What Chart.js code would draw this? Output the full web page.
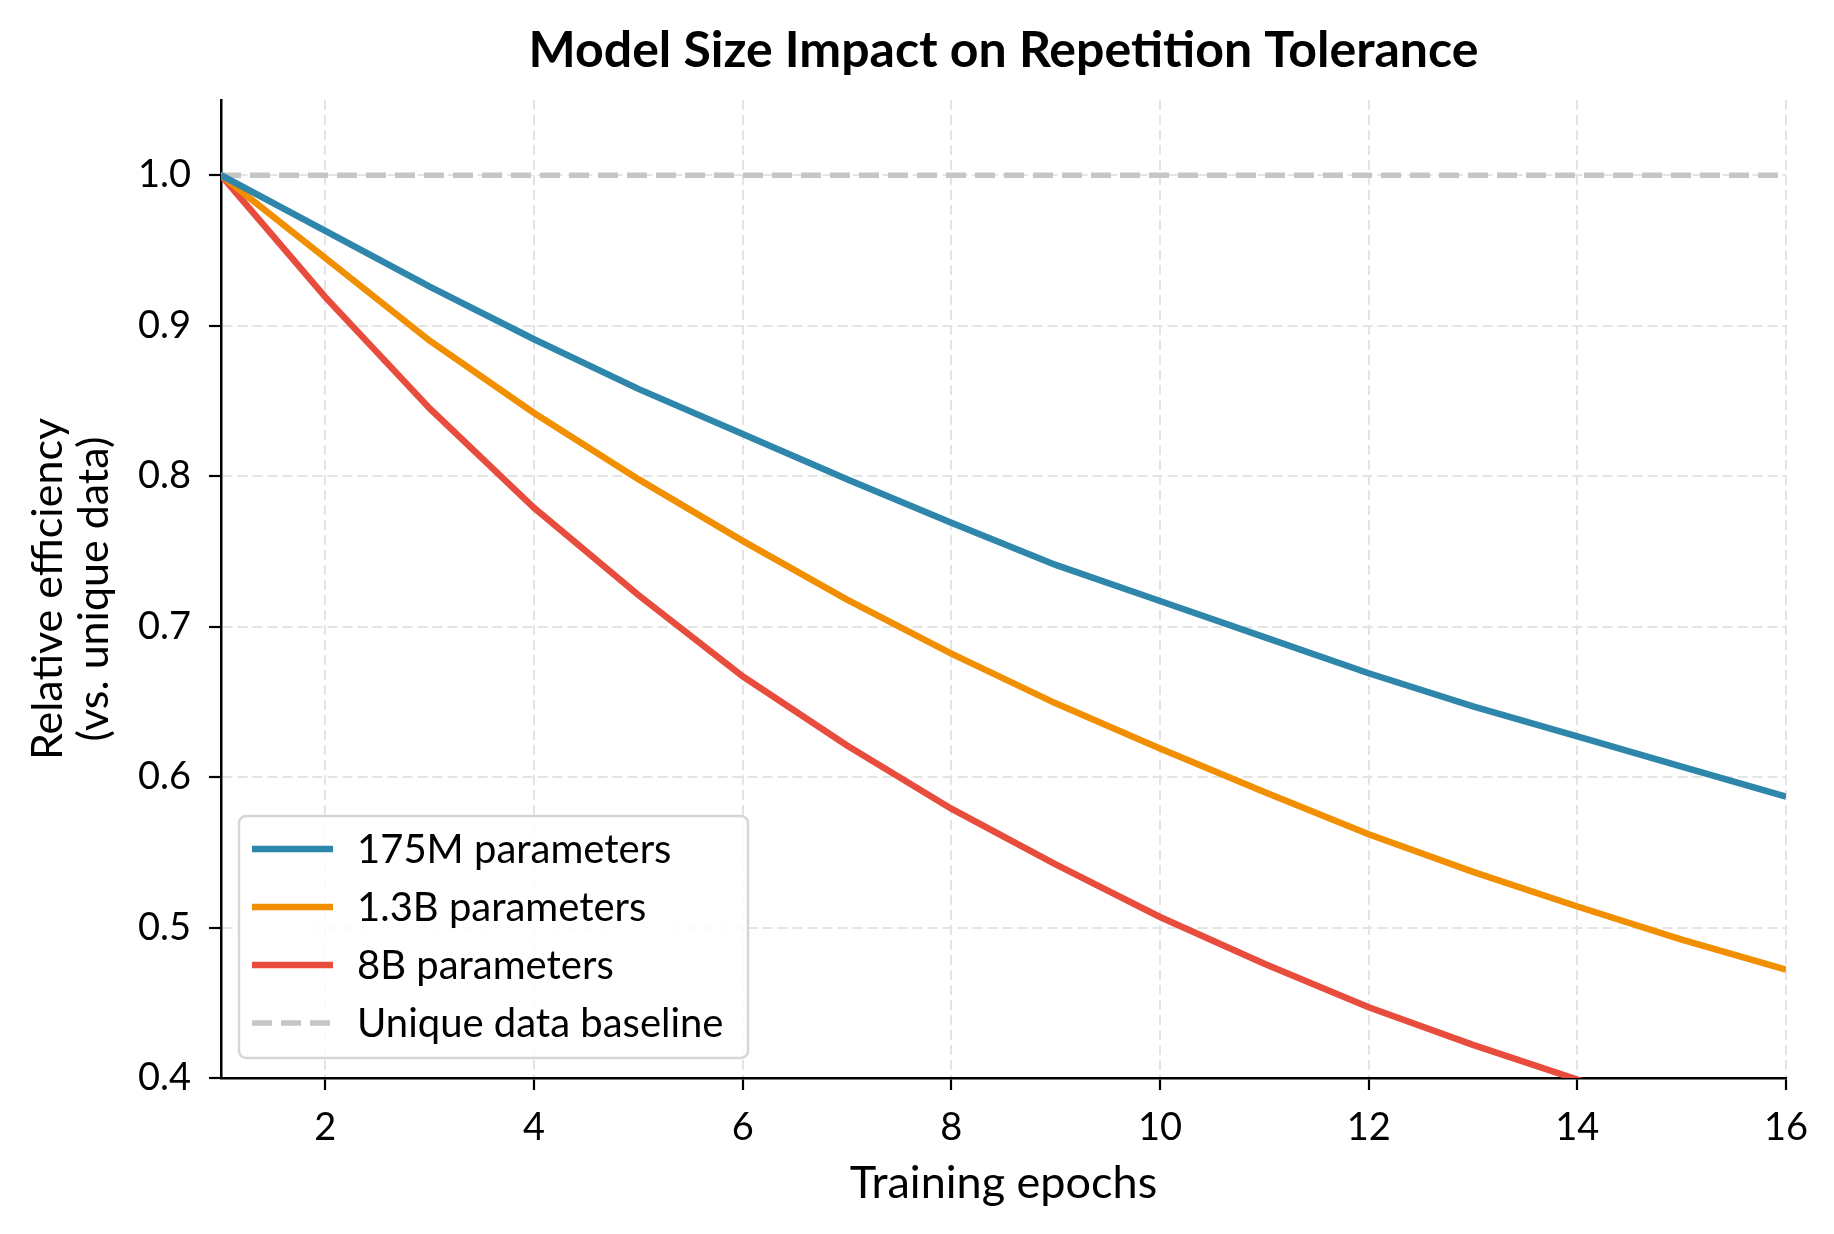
<!DOCTYPE html>
<html>
<head>
<meta charset="utf-8">
<script src="https://cdn.jsdelivr.net/npm/chart.js@4.4.1/dist/chart.umd.min.js"></script>
<style>
  html,body{margin:0;padding:0;background:#fff;}
  #wrap{width:1834px;height:1234px;}
</style>
</head>
<body>
<div id="wrap"><canvas id="chart" width="1834" height="1234"></canvas></div>
<script>
// datos
const epochs=[1,2,3,4,5,6,7,8,9,10,11,12,13,14,15,16]
const small175M=[1.0,0.963,0.926,0.891,0.858,0.828,0.798,0.769,0.741,0.717,0.693,0.669,0.647,0.627,0.607,0.587]
const mid13B=[1.0,0.945,0.890,0.842,0.798,0.757,0.718,0.682,0.649,0.619,0.590,0.562,0.537,0.514,0.492,0.472]
const big8B=[1.0,0.919,0.845,0.779,0.721,0.667,0.621,0.579,0.542,0.507,0.476,0.447,0.422,0.399,0.378,0.358]
const baseline=[1.0,1.0,1.0,1.0,1.0,1.0,1.0,1.0,1.0,1.0,1.0,1.0,1.0,1.0,1.0,1.0]
const seriesNames=['175M parameters','1.3B parameters','8B parameters','Unique data baseline']
const xTicks=[2,4,6,8,10,12,14,16]
const yTicks=[0.4,0.5,0.6,0.7,0.8,0.9,1.0]
const chartTitle='Model Size Impact on Repetition Tolerance'

const FONT="Lato, 'Noto Sans', sans-serif"
Chart.defaults.font.family=FONT
Chart.defaults.color='#000'

const toPoints=arr=>arr.map((v,i)=>({x:epochs[i],y:v}))

// titulo centrado sobre el area del grafico (no sobre todo el canvas)
const areaTitle={
  id:'areaTitle',
  afterDraw(chart){
    const ctx=chart.ctx, area=chart.chartArea
    ctx.save()
    ctx.font="bold 50px "+FONT
    ctx.fillStyle='#000'
    ctx.textAlign='center'
    ctx.textBaseline='middle'
    ctx.fillText(chartTitle,(area.left+area.right)/2,51)
    ctx.restore()
  }
}

// leyenda dibujada dentro del area del grafico
const boxLegend={
  id:'boxLegend',
  afterDraw(chart){
    const ctx=chart.ctx
    const area=chart.chartArea
    const x0=area.left+18, y0=area.bottom-262, w=509, h=242
    ctx.save()
    ctx.beginPath()
    ctx.roundRect(x0,y0,w,h,7)
    ctx.fillStyle='rgba(255,255,255,0.85)'
    ctx.fill()
    ctx.lineWidth=2.5
    ctx.strokeStyle='#d6d6d6'
    ctx.stroke()
    ctx.font="40px "+FONT
    ctx.textBaseline='middle'
    chart.data.datasets.forEach((ds,i)=>{
      const yy=y0+33+i*58
      ctx.beginPath()
      ctx.setLineDash(ds.borderDash||[])
      ctx.strokeStyle=ds.borderColor
      ctx.lineWidth=ds.borderWidth
      ctx.moveTo(x0+13,yy)
      ctx.lineTo(x0+94,yy)
      ctx.stroke()
      ctx.setLineDash([])
      ctx.fillStyle='#000'
      ctx.fillText(ds.label,x0+118,yy+1)
    })
    ctx.restore()
  }
}

const data={
  datasets:[
    {label:seriesNames[0],data:toPoints(small175M),borderColor:'#2E86AB',borderWidth:6.5},
    {label:seriesNames[1],data:toPoints(mid13B),borderColor:'#F18F01',borderWidth:6.5},
    {label:seriesNames[2],data:toPoints(big8B),borderColor:'#E74C3C',borderWidth:6.5},
    {label:seriesNames[3],data:toPoints(baseline),borderColor:'#c6c6c6',borderWidth:5.5,borderDash:[20,9]}
  ]
}

const options={
  responsive:false,
  maintainAspectRatio:false,
  animation:false,
  devicePixelRatio:1,
  layout:{padding:{left:0,right:48,top:100,bottom:0}},
  elements:{point:{radius:0},line:{tension:0,borderCapStyle:'butt'}},
  plugins:{
    legend:{display:false},
    tooltip:{enabled:false},
    title:{display:false}
  },
  scales:{
    x:{
      type:'linear',min:1,max:16,
      afterBuildTicks:s=>{s.ticks=xTicks.map(v=>({value:v}))},
      afterFit:s=>{s.height=156},
      grid:{color:'#e4e4e4',lineWidth:2,tickColor:'#000',tickWidth:2.2,tickLength:12},
      border:{display:true,color:'#000',width:2.5,dash:[10,5]},
      ticks:{font:{size:38},padding:15,color:'#000'},
      title:{display:true,text:'Training epochs',font:{size:45,lineHeight:1.2},color:'#000',padding:{top:4,bottom:24}}
    },
    y:{
      type:'linear',min:0.4,max:1.05,
      afterBuildTicks:s=>{s.ticks=yTicks.map(v=>({value:v}))},
      afterFit:s=>{s.width=221},
      grid:{color:'#e4e4e4',lineWidth:2,tickColor:'#000',tickWidth:2.2,tickLength:12},
      border:{display:true,color:'#000',width:2.5,dash:[10,5]},
      ticks:{font:{size:38},padding:18,color:'#000',callback:v=>v.toFixed(1)},
      title:{display:true,text:['Relative efficiency','(vs. unique data)'],font:{size:43,lineHeight:1.05},color:'#000',padding:{top:26,bottom:0}}
    }
  }
}

new Chart('chart',{type:'line',data,options,plugins:[areaTitle,boxLegend]})
</script>
</body>
</html>
